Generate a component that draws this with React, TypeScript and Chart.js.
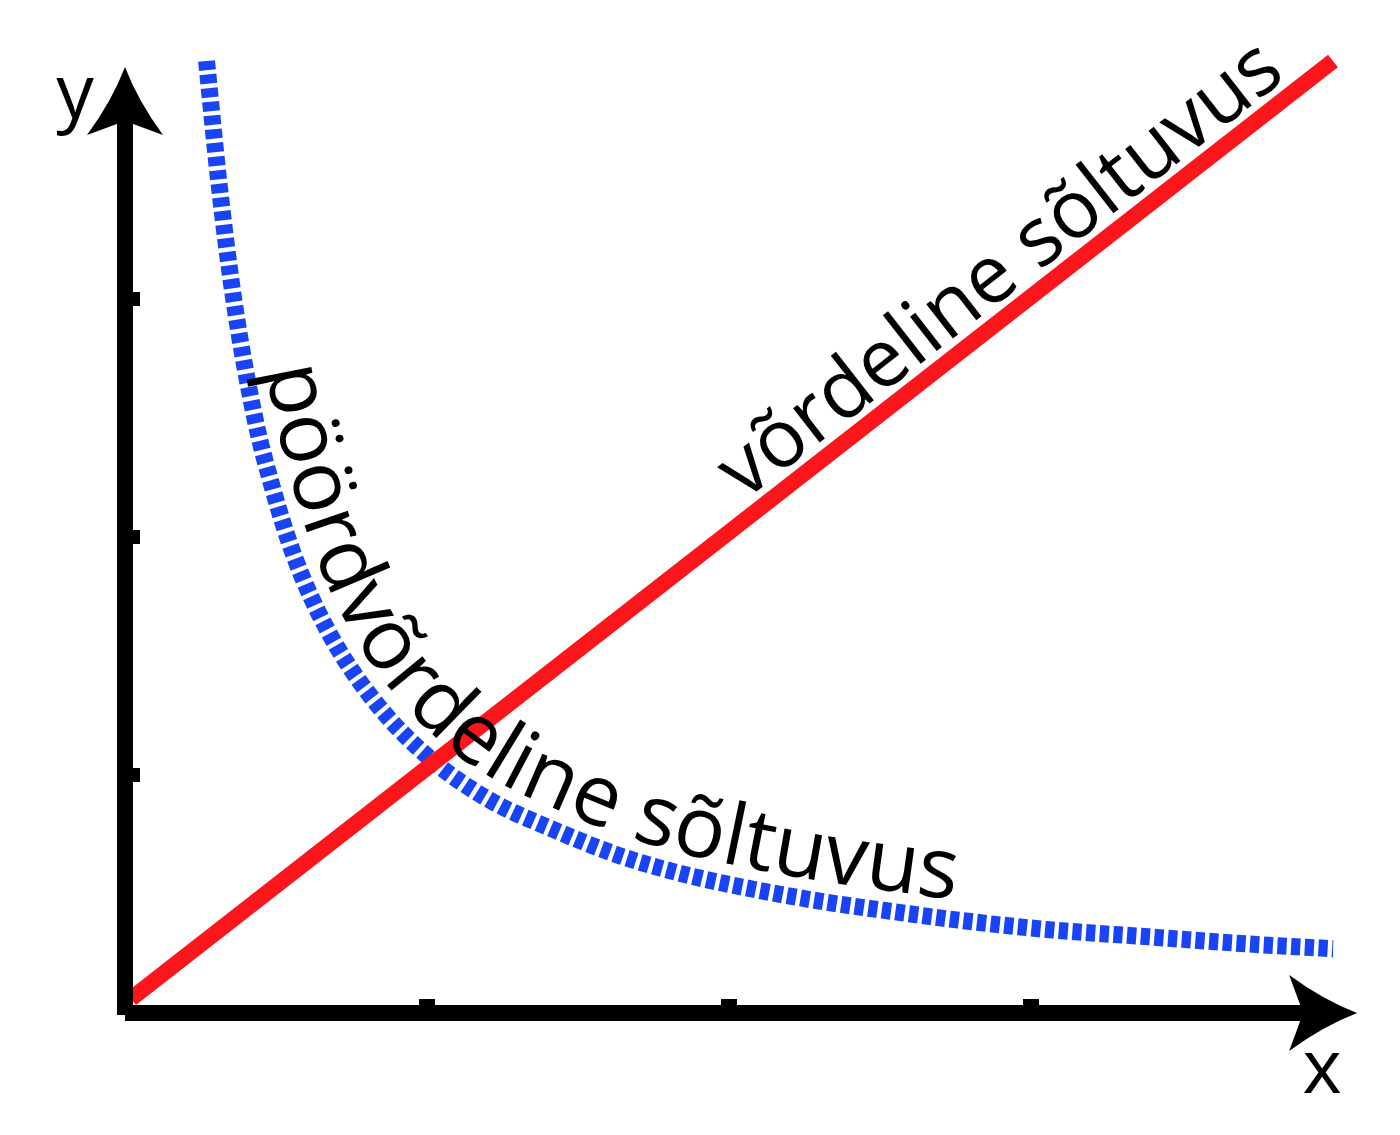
import { useEffect, useRef } from "react";
import { Chart, registerables } from "chart.js";

Chart.register(...registerables);

// pöördvõrdeline sõltuvus (blue dashed curve)
const inverseX = [0.27, 0.31, 0.36, 0.43, 0.49, 0.56, 0.67, 0.82, 1.0, 1.2, 1.42, 1.64, 1.86, 2.08, 2.3, 2.52, 2.76, 3.06, 3.39, 3.72, 4.0];
const inverseY = [4.0, 3.5, 3.0, 2.5, 2.2, 1.92, 1.61, 1.32, 1.08, 0.9, 0.77, 0.66, 0.58, 0.52, 0.47, 0.43, 0.39, 0.35, 0.32, 0.29, 0.27];

// võrdeline sõltuvus (red line)
const directX = [0.02, 4.0];
const directY = [0.06, 4.0];

const xTicks = [1, 2, 3];
const yTicks = [1, 2, 3];

const directLabel = "võrdeline sõltuvus";
const inverseLabel = "pöördvõrdeline sõltuvus";
const xLabel = "x";
const yLabel = "y";

const FONT = '"Open Sans", "Noto Sans", sans-serif';
const RED = "#fb161c";
const BLUE = "#1844f6";

type Pt = { x: number; y: number };

function offsetPath(pts: Pt[], dist: number): Pt[] {
  return pts.map((p, i) => {
    const a = pts[Math.max(0, i - 1)];
    const b = pts[Math.min(pts.length - 1, i + 1)];
    const dx = b.x - a.x;
    const dy = b.y - a.y;
    const len = Math.hypot(dx, dy) || 1;
    return { x: p.x + (dy / len) * dist, y: p.y - (dx / len) * dist };
  });
}

// dense polyline of a dataset as chart.js drew it (bezier control points included)
function tracePath(points: any[], steps: number): Pt[] {
  const out: Pt[] = [];
  for (let i = 0; i < points.length - 1; i++) {
    const a = points[i];
    const b = points[i + 1];
    const c1x = a.cp2x ?? a.x;
    const c1y = a.cp2y ?? a.y;
    const c2x = b.cp1x ?? b.x;
    const c2y = b.cp1y ?? b.y;
    for (let k = 0; k < steps; k++) {
      const t = k / steps;
      const u = 1 - t;
      out.push({
        x: u * u * u * a.x + 3 * u * u * t * c1x + 3 * u * t * t * c2x + t * t * t * b.x,
        y: u * u * u * a.y + 3 * u * u * t * c1y + 3 * u * t * t * c2y + t * t * t * b.y,
      });
    }
  }
  const last = points[points.length - 1];
  out.push({ x: last.x, y: last.y });
  return out;
}

function drawTextOnPath(ctx: CanvasRenderingContext2D, text: string, path: Pt[]) {
  const cum = [0];
  for (let i = 1; i < path.length; i++) {
    cum.push(cum[i - 1] + Math.hypot(path[i].x - path[i - 1].x, path[i].y - path[i - 1].y));
  }
  const total = cum[cum.length - 1];
  ctx.font = `100px ${FONT}`;
  const size = (100 * total) / ctx.measureText(text).width;
  ctx.font = `${size}px ${FONT}`;

  const at = (s: number): Pt => {
    let j = 0;
    while (j < cum.length - 2 && cum[j + 1] < s) j++;
    const seg = cum[j + 1] - cum[j] || 1;
    const f = (s - cum[j]) / seg;
    return {
      x: path[j].x + (path[j + 1].x - path[j].x) * f,
      y: path[j].y + (path[j + 1].y - path[j].y) * f,
    };
  };

  ctx.fillStyle = "#000";
  ctx.textAlign = "center";
  ctx.textBaseline = "alphabetic";
  let prev = 0;
  for (let i = 0; i < text.length; i++) {
    const next = ctx.measureText(text.slice(0, i + 1)).width;
    const p1 = at(prev);
    const p2 = at(next);
    const m = at((prev + next) / 2);
    ctx.save();
    ctx.translate(m.x, m.y);
    ctx.rotate(Math.atan2(p2.y - p1.y, p2.x - p1.x));
    ctx.fillText(text[i], 0, 0);
    ctx.restore();
    prev = next;
  }
}

function labelAlong(ctx: CanvasRenderingContext2D, text: string, base: Pt[], dist: number, fromPx: number, toPx: number) {
  const off = offsetPath(base, dist);
  const path = off.filter((_, i) => base[i].x >= fromPx && base[i].x <= toPx);
  drawTextOnPath(ctx, text, path);
}

function arrowHead(ctx: CanvasRenderingContext2D, tip: Pt, dir: Pt) {
  const len = 68;
  const half = 38;
  const notch = 54;
  const px = -dir.y;
  const py = dir.x;
  const bx = tip.x - dir.x * len;
  const by = tip.y - dir.y * len;
  const w1 = { x: bx + px * half, y: by + py * half };
  const w2 = { x: bx - px * half, y: by - py * half };
  const n = { x: tip.x - dir.x * notch, y: tip.y - dir.y * notch };
  const c1 = { x: (tip.x + w1.x) / 2 - px * 6, y: (tip.y + w1.y) / 2 - py * 6 };
  const c2 = { x: (tip.x + w2.x) / 2 + px * 6, y: (tip.y + w2.y) / 2 + py * 6 };
  ctx.beginPath();
  ctx.moveTo(tip.x, tip.y);
  ctx.quadraticCurveTo(c1.x, c1.y, w1.x, w1.y);
  ctx.lineTo(n.x, n.y);
  ctx.lineTo(w2.x, w2.y);
  ctx.quadraticCurveTo(c2.x, c2.y, tip.x, tip.y);
  ctx.closePath();
  ctx.fill();
}

const axesPlugin = {
  id: "arrowAxes",
  afterDraw(chart: any) {
    const ctx: CanvasRenderingContext2D = chart.ctx;
    const xs = chart.scales.x;
    const ys = chart.scales.y;
    const x0 = xs.getPixelForValue(0);
    const y0 = ys.getPixelForValue(0);
    const xTip = xs.getPixelForValue(4.08);
    const yTip = ys.getPixelForValue(3.975);

    ctx.save();
    ctx.fillStyle = "#000";
    // shafts
    ctx.fillRect(x0 - 8, yTip + 50, 16, y0 + 2 - (yTip + 50));
    ctx.fillRect(x0, y0 - 8, xTip - 50 - x0, 16);
    // ticks
    for (const t of yTicks) {
      const p = ys.getPixelForValue(t);
      ctx.fillRect(x0 + 7, p - 7, 8, 14);
    }
    for (const t of xTicks) {
      const p = xs.getPixelForValue(t);
      ctx.fillRect(p - 8, y0 - 14, 16, 7);
    }
    arrowHead(ctx, { x: x0, y: yTip }, { x: 0, y: -1 });
    arrowHead(ctx, { x: xTip, y: y0 }, { x: 1, y: 0 });

    ctx.font = `75px ${FONT}`;
    ctx.textAlign = "center";
    ctx.textBaseline = "alphabetic";
    ctx.fillText(yLabel, x0 - 50, yTip + 51);
    ctx.fillText(xLabel, xTip - 35, y0 + 80);

    // curve labels
    const red = chart.getDatasetMeta(0).data;
    const redBase: Pt[] = [];
    for (let i = 0; i <= 400; i++) {
      const f = i / 400;
      redBase.push({ x: red[0].x + (red[1].x - red[0].x) * f, y: red[0].y + (red[1].y - red[0].y) * f });
    }
    labelAlong(ctx, directLabel, redBase, 15, xs.getPixelForValue(2.07), xs.getPixelForValue(3.89));

    const blue = chart.getDatasetMeta(1).data;
    const blueBase = tracePath(blue, 40);
    labelAlong(ctx, inverseLabel, blueBase, 20, xs.getPixelForValue(0.4), xs.getPixelForValue(2.745));
    ctx.restore();
  },
};

export default function App() {
  const ref = useRef<HTMLCanvasElement>(null);

  useEffect(() => {
    if (!ref.current) return;
    const chart = new Chart(ref.current, {
      type: "line",
      data: {
        datasets: [
          {
            label: directLabel,
            data: directX.map((x, i) => ({ x, y: directY[i] })),
            borderColor: RED,
            borderWidth: 16,
            borderCapStyle: "butt",
            pointRadius: 0,
            clip: false,
          },
          {
            label: inverseLabel,
            data: inverseX.map((x, i) => ({ x, y: inverseY[i] })),
            borderColor: BLUE,
            borderWidth: 17,
            borderDash: [9.3, 4.4],
            borderCapStyle: "butt",
            cubicInterpolationMode: "monotone",
            pointRadius: 0,
            clip: false,
          },
        ],
      },
      options: {
        responsive: false,
        animation: false,
        devicePixelRatio: 1,
        layout: { padding: { left: 125, right: 6.6, top: 13.4, bottom: 122 } },
        scales: {
          x: { type: "linear", min: 0, max: 4.2, display: false },
          y: { type: "linear", min: 0, max: 4.2, display: false },
        },
        plugins: { legend: { display: false }, tooltip: { enabled: false } },
        events: [],
      },
      plugins: [axesPlugin],
    } as any);
    return () => {
      chart.destroy();
    };
  }, []);

  return (
    <div style={{ position: "fixed", left: 0, top: 0, width: 1400, height: 1135, background: "#fff" }}>
      <canvas ref={ref} width={1400} height={1135} style={{ display: "block" }} />
    </div>
  );
}
